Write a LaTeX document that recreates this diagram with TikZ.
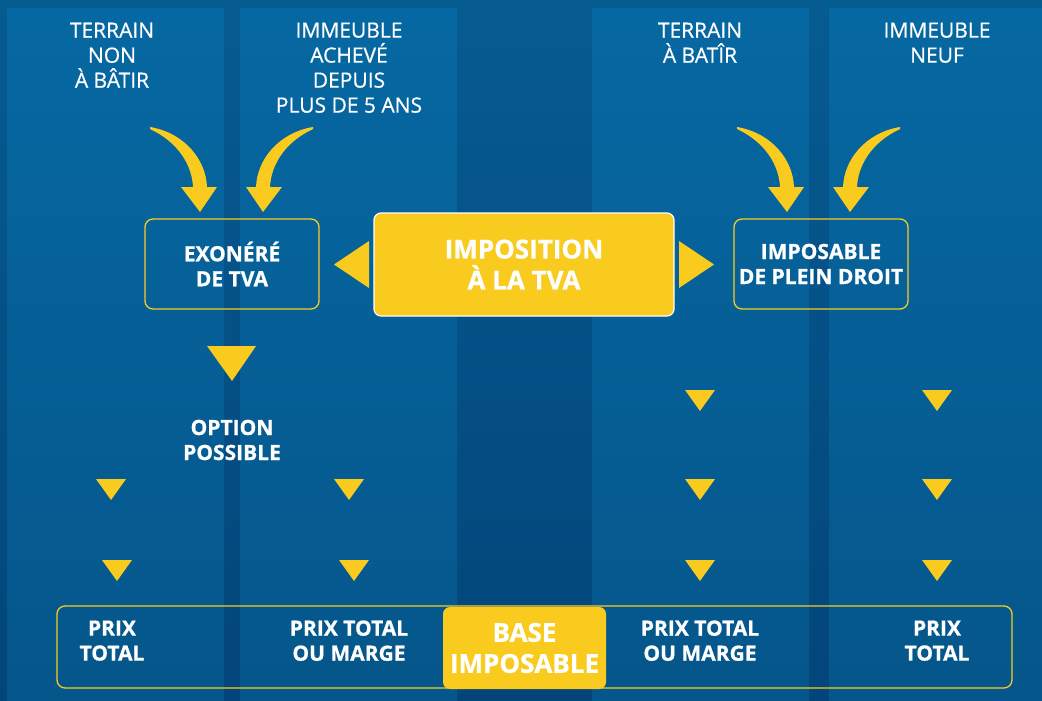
\documentclass[tikz,border=0pt]{standalone}
\usepackage{fontspec}
\setmainfont{Open Sans}[BoldFeatures={FakeBold=0.8}]
\newfontfamily\semifont{Open Sans}[FakeBold=0.6]
\definecolor{ylw}{HTML}{F9CB1F}
\definecolor{bgtop}{HTML}{065B91}
\definecolor{bgbot}{HTML}{03457A}
\definecolor{coltop}{HTML}{0668A2}
\definecolor{colbot}{HTML}{05568A}
\tikzset{
  hdr/.style={text=white, align=center, inner sep=0pt, font=\semifont\fontsize{21}{25}\selectfont},
  boldtxt/.style={text=white, align=center, inner sep=0pt, font=\bfseries\fontsize{21}{25}\selectfont},
  bigtxt/.style={text=white, align=center, inner sep=0pt, font=\bfseries\fontsize{26}{31}\selectfont},
  outbox/.style={draw=ylw, line width=1.3pt, rounded corners=8pt, inner sep=0pt},
  tri/.style={fill=ylw},
  curvarrow/.pic={
    \fill[ylw] (0,-1) .. controls (35,5) and (56,32) .. (57,59)
      -- (67,59) -- (50,84) -- (31,59) -- (43,59)
      .. controls (42,37) and (28,14) .. (0,1) -- cycle;
  }
}
\begin{document}
\begin{tikzpicture}[x=1pt,y=-1pt]
\useasboundingbox (0,0) rectangle (1042,701);
% background
\shade[top color=bgtop,bottom color=bgbot] (0,0) rectangle (1042,701);
\foreach \a/\b in {7/224,240/457,592/809,829/1042}
  \shade[top color=coltop,bottom color=colbot] (\a,9) rectangle (\b,701);

% headers
\node[hdr] (h1) at (112,55.2) {TERRAIN\\NON\\À BÂTIR};
\node[hdr] (h2) at (349,67.7) {IMMEUBLE\\ACHEVÉ\\DEPUIS\\PLUS DE 5 ANS};
\node[hdr] (h3) at (700,42.7) {TERRAIN\\À BATÎR};
\node[hdr] (h4) at (937,42.7) {IMMEUBLE\\NEUF};

% curved arrows
\pic at (150,128) {curvarrow};
\pic[xscale=-1] at (313,128) {curvarrow};
\pic at (737,128) {curvarrow};
\pic[xscale=-1] at (900,128) {curvarrow};

% boxes
\node[outbox, minimum width=174pt, minimum height=90pt, boldtxt] (exo) at (232,264) {EXONÉRÉ\\DE TVA};
\node[outbox, minimum width=174pt, minimum height=90pt, boldtxt] (imp) at (821,264) {IMPOSABLE\\DE PLEIN DROIT};
\node[fill=ylw, draw=white, line width=1.2pt, rounded corners=7pt, minimum width=300pt, minimum height=103pt, bigtxt] (tva) at (524,264.5) {IMPOSITION\\À LA TVA};

% side triangles
\fill[ylw] (369,241) -- (334,264.5) -- (369,288) -- cycle;
\fill[ylw] (679,241) -- (714,264.5) -- (679,288) -- cycle;

% big down triangle and option
\fill[ylw] (207,346) -- (256,346) -- (232,381) -- cycle;
\node[boldtxt] (opt) at (232,440) {OPTION\\POSSIBLE};

% small triangles
\foreach \x/\y in {111/479,117/560,349/479,354/560,700/390,700/479,700/560,937/390,937/479,937/560}
  \fill[ylw] (\x-15,\y) -- (\x+15,\y) -- (\x,\y+21) -- cycle;

% bottom bar
\node[outbox, minimum width=955pt, minimum height=82pt] (bar) at (534.5,647) {};
\node[fill=ylw, rounded corners=7pt, minimum width=163pt, minimum height=82pt, bigtxt] (base) at (524.5,648) {BASE\\IMPOSABLE};
\node[boldtxt] (p1) at (112,640.7) {PRIX\\TOTAL};
\node[boldtxt] (p2) at (349,640.7) {PRIX TOTAL\\OU MARGE};
\node[boldtxt] (p3) at (700,640.7) {PRIX TOTAL\\OU MARGE};
\node[boldtxt] (p4) at (937,640.7) {PRIX\\TOTAL};
\end{tikzpicture}
\end{document}
